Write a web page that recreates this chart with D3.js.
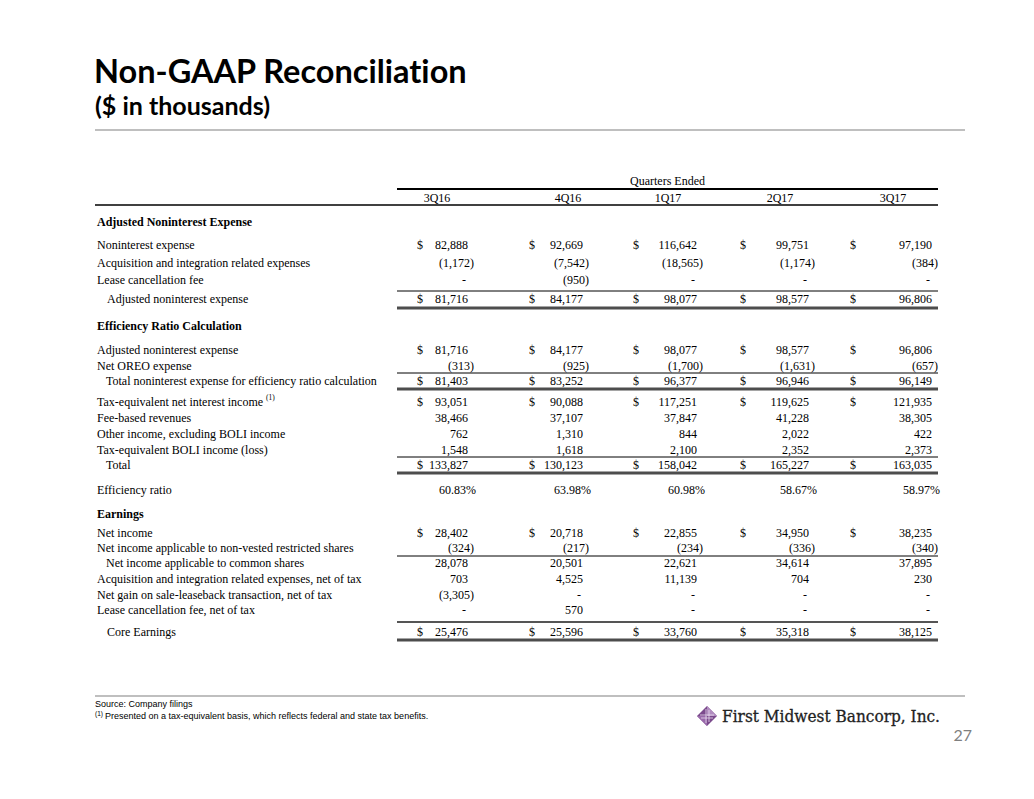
<!DOCTYPE html>
<html><head><meta charset="utf-8">
<script src="https://cdn.jsdelivr.net/npm/d3@7"></script>
<style>body{margin:0;background:#fff}svg{display:block}text{font-variant-ligatures:none}</style>
</head><body>
<svg id="c" width="1034" height="799"></svg>
<script>
// ---------- DATA ----------
const quarters = ["3Q16", "4Q16", "1Q17", "2Q17", "3Q17"];
const nonintExpense      = [82888, 92669, 116642, 99751, 97190];
const acqExpenses        = [-1172, -7542, -18565, -1174, -384];
const leaseFee           = [0, -950, 0, 0, 0];
const adjNonint          = [81716, 84177, 98077, 98577, 96806];
const oreoExpense        = [-313, -925, -1700, -1631, -657];
const totalNonintEff     = [81403, 83252, 96377, 96946, 96149];
const teNetInterest      = [93051, 90088, 117251, 119625, 121935];
const feeRevenues        = [38466, 37107, 37847, 41228, 38305];
const otherIncome        = [762, 1310, 844, 2022, 422];
const teBoli             = [1548, 1618, 2100, 2352, 2373];
const totalRevenue       = [133827, 130123, 158042, 165227, 163035];
const efficiencyRatio    = [60.83, 63.98, 60.98, 58.67, 58.97];
const netIncome          = [28402, 20718, 22855, 34950, 38235];
const nonVestedShares    = [-324, -217, -234, -336, -340];
const niCommon           = [28078, 20501, 22621, 34614, 37895];
const acqNetTax          = [703, 4525, 11139, 704, 230];
const saleLeaseback      = [-3305, 0, 0, 0, 0];
const leaseFeeNetTax     = [0, 570, 0, 0, 0];
const coreEarnings       = [25476, 25596, 33760, 35318, 38125];

// ---------- LAYOUT ----------
const svg = d3.select("#c");
const serif = "'Liberation Serif','Times New Roman',serif";
const sans = "'Liberation Sans',Arial,sans-serif";
const titleFont = "Lato,'Open Sans',sans-serif";

const xDollar = d3.scaleOrdinal(quarters, [417, 529, 633, 740, 850]);
const xNum    = d3.scaleOrdinal(quarters, [468, 583, 697, 809, 932]);
const xHead   = d3.scaleOrdinal(quarters, [437, 568, 668, 780, 893]);
const tableLeft = 95, colLeft = 397, tableRight = 938;

const rows = [
  {label: "Adjusted Noninterest Expense", type: "head", y: 222},
  {label: "Noninterest expense", vals: nonintExpense, dollar: true, y: 245},
  {label: "Acquisition and integration related expenses", vals: acqExpenses, y: 263},
  {label: "Lease cancellation fee", vals: leaseFee, y: 280},
  {label: "Adjusted noninterest expense", vals: adjNonint, dollar: true, indent: 10, y: 299},
  {label: "Efficiency Ratio Calculation", type: "head", y: 326},
  {label: "Adjusted noninterest expense", vals: adjNonint, dollar: true, y: 350},
  {label: "Net OREO expense", vals: oreoExpense, y: 366},
  {label: "Total noninterest expense for efficiency ratio calculation", vals: totalNonintEff, dollar: true, indent: 9, y: 381},
  {label: "Tax-equivalent net interest income", sup: "(1)", vals: teNetInterest, dollar: true, y: 402},
  {label: "Fee-based revenues", vals: feeRevenues, y: 418},
  {label: "Other income, excluding BOLI income", vals: otherIncome, y: 434},
  {label: "Tax-equivalent BOLI income (loss)", vals: teBoli, y: 450},
  {label: "Total", vals: totalRevenue, dollar: true, indent: 9, y: 465},
  {label: "Efficiency ratio", vals: efficiencyRatio, pct: true, y: 490},
  {label: "Earnings", type: "head", y: 514},
  {label: "Net income", vals: netIncome, dollar: true, y: 533},
  {label: "Net income applicable to non-vested restricted shares", vals: nonVestedShares, y: 548},
  {label: "Net income applicable to common shares", vals: niCommon, indent: 9, y: 563},
  {label: "Acquisition and integration related expenses, net of tax", vals: acqNetTax, y: 579},
  {label: "Net gain on sale-leaseback transaction, net of tax", vals: saleLeaseback, y: 595},
  {label: "Lease cancellation fee, net of tax", vals: leaseFeeNetTax, y: 610},
  {label: "Core Earnings", vals: coreEarnings, dollar: true, indent: 10, y: 632}
];

const rules = [
  {y: 189, x0: colLeft, w: 2, c: "#000"},
  {y: 205, x0: tableLeft, w: 1.5, c: "#000"},
  {y: 291, x0: colLeft, w: 1, c: "#000"},
  {y: 308, x0: colLeft, w: 3, c: "#4d4d4d"},
  {y: 373, x0: colLeft, w: 1, c: "#000"},
  {y: 389, x0: colLeft, w: 3, c: "#4d4d4d"},
  {y: 457, x0: colLeft, w: 1, c: "#000"},
  {y: 473, x0: colLeft, w: 3, c: "#4d4d4d"},
  {y: 556, x0: colLeft, w: 1, c: "#000"},
  {y: 622, x0: colLeft, w: 2, c: "#555"},
  {y: 640, x0: colLeft, w: 3, c: "#4d4d4d"}
];

// ---------- TITLE ----------
svg.append("text").attr("x", 94).attr("y", 83)
  .attr("font-family", titleFont).attr("font-weight", 700).attr("font-size", 32.5)
  .attr("fill", "#000").text("Non-GAAP Reconciliation");
svg.append("text").attr("x", 95).attr("y", 115)
  .attr("font-family", titleFont).attr("font-weight", 700).attr("font-size", 25)
  .attr("fill", "#000").text("($ in thousands)");
svg.append("line").attr("x1", 95).attr("x2", 965).attr("y1", 130).attr("y2", 130)
  .attr("stroke", "#bfbfbf").attr("stroke-width", 2);

// ---------- TABLE HEADER ----------
const T = svg.append("g").attr("font-family", serif).attr("font-size", 12).attr("fill", "#000");
T.append("text").attr("x", (colLeft + tableRight) / 2).attr("y", 185)
  .attr("text-anchor", "middle").text("Quarters Ended");
T.selectAll("text.qh").data(quarters).join("text").attr("class", "qh")
  .attr("x", d => xHead(d)).attr("y", 202).attr("text-anchor", "middle").text(d => d);

T.selectAll("line.rule").data(rules).join("line").attr("class", "rule")
  .attr("x1", d => d.x0).attr("x2", tableRight).attr("y1", d => d.y).attr("y2", d => d.y)
  .attr("stroke", d => d.c).attr("stroke-width", d => d.w);

// ---------- ROWS ----------
const fmtN = d3.format(",");
function cell(v, r) {
  if (r.pct) return {t: d3.format(".2f")(v) + "%", dx: 8};
  if (v === 0) return {t: "-", dx: -2};
  if (v < 0) return {t: "(" + fmtN(-v) + ")", dx: 6};
  return {t: fmtN(v), dx: 0};
}

rows.forEach(r => {
  const base = r.y + 4;
  const lab = T.append("text").attr("x", 97 + (r.indent || 0)).attr("y", base)
    .attr("font-weight", r.type === "head" ? 700 : 400).text(r.label);
  if (r.sup) {
    lab.append("tspan").attr("font-size", 7.5).attr("dx", 3).attr("dy", -6).text(r.sup);
  }
  if (!r.vals) return;
  const cells = quarters.map((q, i) => ({q, v: r.vals[i]}));
  if (r.dollar) {
    T.append("g").selectAll("text").data(cells).join("text")
      .attr("x", d => xDollar(d.q)).attr("y", base).text("$");
  }
  T.append("g").selectAll("text").data(cells).join("text")
    .attr("text-anchor", "end")
    .attr("x", d => xNum(d.q) + cell(d.v, r).dx).attr("y", base)
    .text(d => cell(d.v, r).t);
});

// ---------- FOOTER ----------
svg.append("line").attr("x1", 95).attr("x2", 965).attr("y1", 696).attr("y2", 696)
  .attr("stroke", "#bfbfbf").attr("stroke-width", 2);
const F = svg.append("g").attr("font-family", sans).attr("font-size", 9).attr("fill", "#000");
F.append("text").attr("x", 95).attr("y", 707).text("Source: Company filings");
const fn = F.append("text").attr("x", 95).attr("y", 719);
fn.append("tspan").attr("font-size", 6.5).attr("dy", -3).text("(1)");
fn.append("tspan").attr("dy", 3).attr("dx", 2).text("Presented on a tax-equivalent basis, which reflects federal and state tax benefits.");

// logo
const L = svg.append("g").attr("transform", "translate(707,716)");
L.append("path").attr("d", "M0,-10 L10,0 L0,10 L-10,0 Z").attr("fill", "#7b4a8c");
L.append("path").attr("d", "M0,-10 L10,0 L0,0 Z").attr("fill", "#b18cc0");
L.append("path").attr("d", "M-10,0 L0,10 L0,0 Z").attr("fill", "#9a6aab");
L.append("path").attr("d", "M-7,-1 L7,-1 M-6,2 L6,2 M-1,-7 L-1,7 M2,-6 L2,6")
  .attr("stroke", "#e8dcef").attr("stroke-width", 0.8);
svg.append("text").attr("x", 722).attr("y", 722)
  .attr("font-family", "'DejaVu Serif',serif").attr("font-size", 16)
  .attr("textLength", 218).attr("lengthAdjust", "spacingAndGlyphs")
  .attr("stroke", "#222").attr("stroke-width", 0.3)
  .attr("fill", "#222").text("First Midwest Bancorp, Inc.");

svg.append("text").attr("x", 972).attr("y", 741).attr("text-anchor", "end")
  .attr("font-family", titleFont).attr("font-size", 16).attr("fill", "#7f7f7f").text("27");
</script>
</body></html>
